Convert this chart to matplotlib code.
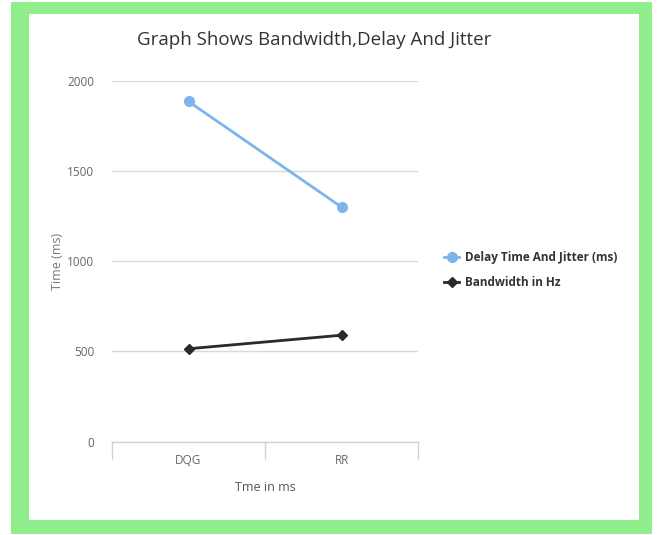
import matplotlib.pyplot as plt
from matplotlib.patches import Rectangle

plt.rcParams["font.family"] = "Open Sans"

categories = ["DQG", "RR"]
delay_jitter = [1885, 1300]
bandwidth = [515, 590]
y_ticks = [0, 500, 1000, 1500, 2000]

W, H = 657, 535
fig = plt.figure(figsize=(W / 100, H / 100), dpi=100)
fig.patch.set_facecolor("white")

# green frame + white card
fig.add_artist(Rectangle((11 / W, 1 - 534 / H), 641 / W, 532 / H,
                         transform=fig.transFigure, facecolor="#90ee8c",
                         edgecolor="none", zorder=-2))
fig.add_artist(Rectangle((29 / W, 1 - 520 / H), 610 / W, 506 / H,
                         transform=fig.transFigure, facecolor="white",
                         edgecolor="none", zorder=-1))

ax = fig.add_axes([112 / W, 1 - 441.7 / H, 306 / W, 361 / H])
ax.set_facecolor("none")

x = list(range(len(categories)))
ax.plot(x, delay_jitter, color="#7cb5ec", linewidth=2, marker="o",
        markersize=7, label="Delay Time And Jitter (ms)", zorder=3)
ax.plot(x, bandwidth, color="#2b2b2b", linewidth=2, marker="D",
        markersize=5, label="Bandwidth in Hz", zorder=3)

ax.set_xlim(-0.5, len(categories) - 0.5)
ax.set_ylim(0, 2000)
ax.set_yticks(y_ticks)
ax.set_yticklabels([str(v) for v in y_ticks], fontsize=8.5, color="#666666")
ax.tick_params(axis="y", length=0, pad=13)

ax.set_xticks([i - 0.5 for i in range(len(categories) + 1)])
ax.set_xticklabels([])
ax.set_xticks(x, minor=True)
ax.set_xticklabels(categories, minor=True, fontsize=8.5, color="#666666")
ax.tick_params(axis="x", which="major", length=12, color="#c8d3df", width=1)
ax.tick_params(axis="x", which="minor", length=0, pad=9)

ax.grid(axis="y", color="#d8d8d8", linewidth=1)
ax.set_axisbelow(True)
for s in ["top", "right", "left"]:
    ax.spines[s].set_visible(False)
ax.spines["bottom"].set_color("#c8d3df")
ax.spines["bottom"].set_linewidth(1)

ax.set_xlabel("Tme in ms", fontsize=9, color="#555555", labelpad=10)
ax.set_ylabel("Time (ms)", fontsize=9, color="#777777", labelpad=2)

fig.text(314 / W, 1 - 40 / H, "Graph Shows Bandwidth,Delay And Jitter",
         ha="center", va="center", fontsize=13.5, color="#333333")

ax.legend(loc="center left", bbox_to_anchor=(1.05, 0.475), frameon=False,
          prop={"weight": "bold", "size": 8.5}, handlelength=1.3,
          handletextpad=0.5, labelspacing=1.0, labelcolor="#333333")

fig.savefig("out.png", dpi=100)
